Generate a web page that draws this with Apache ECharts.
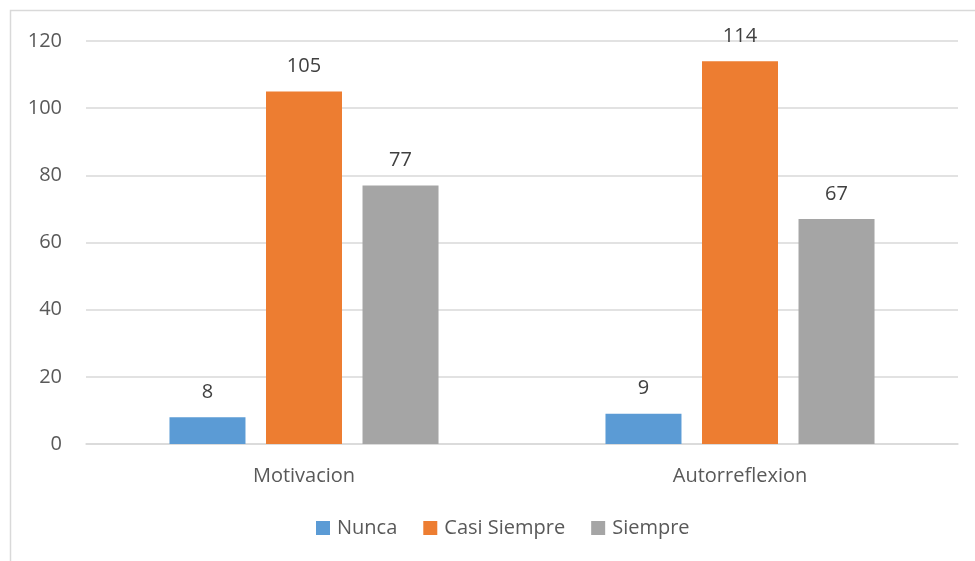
<!DOCTYPE html>
<html>
<head>
<meta charset="utf-8">
<script src="https://cdn.jsdelivr.net/npm/echarts@6/dist/echarts.min.js"></script>
<style>
  html, body { margin: 0; padding: 0; background: #fff; }
  #chart { width: 975px; height: 561px; }
</style>
</head>
<body>
<div id="chart"></div>
<script>
// Categories and series values
const categories = ['Motivacion', 'Autorreflexion'];
const nunca = [8, 9];
const casiSiempre = [105, 114];
const siempre = [77, 67];
const yTicks = [0, 20, 40, 60, 80, 100, 120];

const FONT = 'Open Sans';
const labelColor = '#595959';
const FS = 20;

const chart = echarts.init(document.getElementById('chart'));

function barSeries(name, data, color) {
  return {
    name: name,
    type: 'bar',
    data: data,
    barWidth: 76,
    barGap: '27%',
    itemStyle: { color: color },
    label: {
      show: true,
      position: 'top',
      distance: 15,
      color: '#404040',
      fontFamily: FONT,
      fontSize: FS
    }
  };
}

chart.setOption({
  animation: false,
  backgroundColor: '#ffffff',
  graphic: [{
    type: 'rect',
    shape: { x: 10.5, y: 10.5, width: 980, height: 580 },
    style: { fill: 'none', stroke: '#d9d9d9', lineWidth: 1.5 },
    silent: true
  }],
  grid: { left: 86, right: 17, top: 41, bottom: 117, containLabel: false },
  legend: {
    bottom: 18,
    left: 311,
    itemWidth: 14,
    itemHeight: 14,
    itemGap: 26,
    icon: 'rect',
    textStyle: { color: labelColor, fontFamily: FONT, fontSize: FS, padding: [0, 0, 0, 2] },
    data: ['Nunca', 'Casi Siempre', 'Siempre']
  },
  xAxis: {
    type: 'category',
    data: categories,
    axisLine: { show: true, lineStyle: { color: '#d9d9d9', width: 1.5 } },
    axisTick: { show: false },
    axisLabel: { color: labelColor, fontFamily: FONT, fontSize: FS, margin: 22 }
  },
  yAxis: {
    type: 'value',
    min: yTicks[0],
    max: yTicks[yTicks.length - 1],
    interval: 20,
    axisLine: { show: false },
    axisTick: { show: false },
    axisLabel: { color: labelColor, fontFamily: FONT, fontSize: FS, margin: 24 },
    splitLine: { lineStyle: { color: '#d9d9d9', width: 1.5 } }
  },
  series: [
    barSeries('Nunca', nunca, '#5b9bd5'),
    barSeries('Casi Siempre', casiSiempre, '#ed7d31'),
    barSeries('Siempre', siempre, '#a5a5a5')
  ]
});
</script>
</body>
</html>
